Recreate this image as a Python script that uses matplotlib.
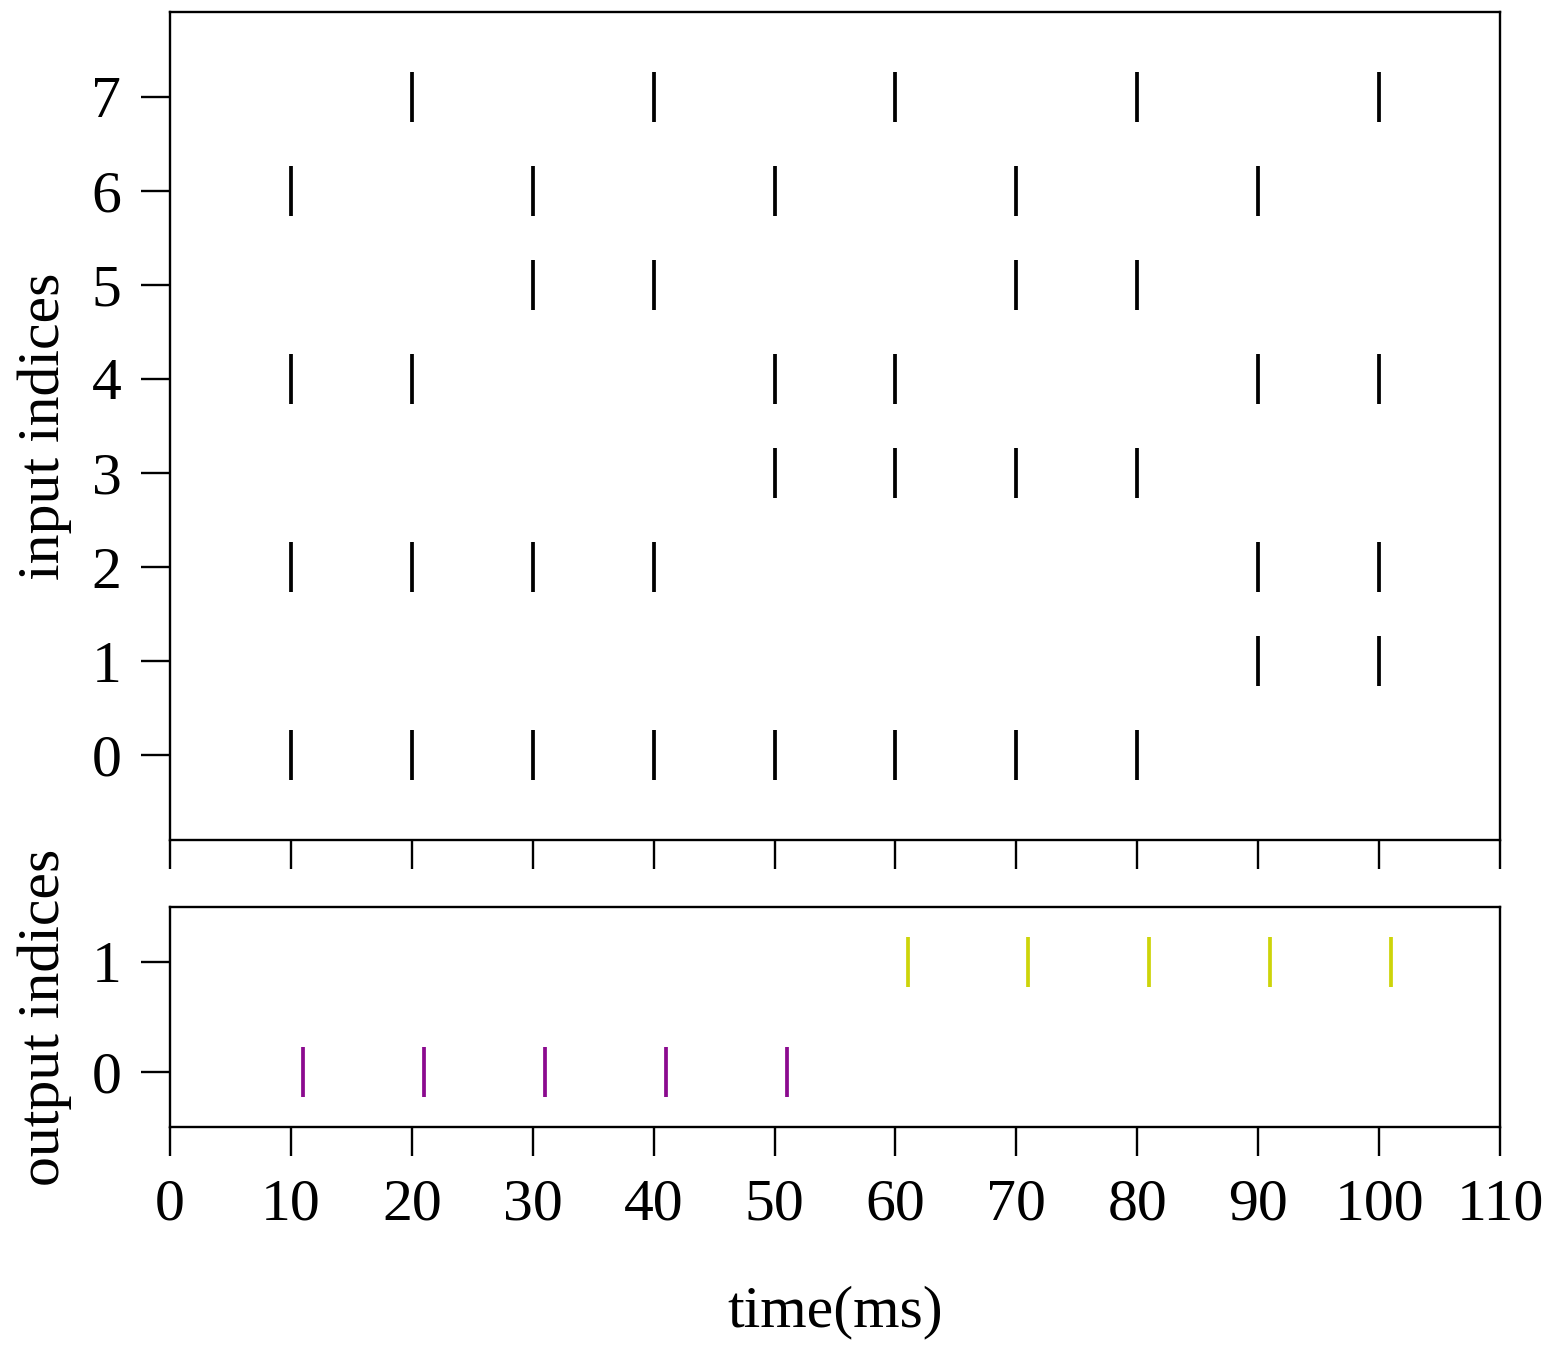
import matplotlib
matplotlib.use("Agg")
import matplotlib.pyplot as plt

plt.rcParams['font.family'] = ['Liberation Serif', 'DejaVu Serif']

input_spikes = {
    7: [20, 40, 60, 80, 100],
    6: [10, 30, 50, 70, 90],
    5: [30, 40, 70, 80],
    4: [10, 20, 50, 60, 90, 100],
    3: [50, 60, 70, 80],
    2: [10, 20, 30, 40, 90, 100],
    1: [90, 100],
    0: [10, 20, 30, 40, 50, 60, 70, 80],
}
output_spikes = {
    0: [11, 21, 31, 41, 51],
    1: [61, 71, 81, 91, 101],
}
output_colors = {0: '#8b0a8f', 1: '#cdd40a'}
xticks = [0, 10, 20, 30, 40, 50, 60, 70, 80, 90, 100, 110]

fig = plt.figure(figsize=(15.57, 13.52), dpi=100)
W, H = 1557, 1352
ax1 = fig.add_axes([170 / W, 1 - 840 / H, 1330 / W, 828 / H])
ax2 = fig.add_axes([170 / W, 1 - 1127 / H, 1330 / W, 220 / H])

ms = 36
mew = 2.7
for idx, times in input_spikes.items():
    ax1.plot(times, [idx] * len(times), linestyle='none', marker='|',
             markersize=ms, markeredgewidth=mew, color='black')
for idx, times in output_spikes.items():
    ax2.plot(times, [idx] * len(times), linestyle='none', marker='|',
             markersize=ms, markeredgewidth=mew, color=output_colors[idx])

fs = 43
for ax in (ax1, ax2):
    ax.set_xlim(0, 110)
    ax.set_xticks(xticks)
    ax.tick_params(direction='out', length=21, width=1.7, labelsize=fs)
    ax.tick_params(axis='x', pad=16)
    ax.tick_params(axis='y', pad=14)
    for s in ax.spines.values():
        s.set_linewidth(1.7)

ax1.set_ylim(-0.9, 7.9)
ax1.set_yticks(range(8))
ax1.tick_params(axis='x', labelbottom=False)
ax1.set_ylabel('input indices', fontsize=fs, labelpad=14)

ax2.set_ylim(-0.5, 1.5)
ax2.set_yticks([0, 1])
ax2.set_ylabel('output indices', fontsize=fs, labelpad=14)
ax2.set_xlabel('time(ms)', fontsize=fs, labelpad=38)

fig.align_ylabels([ax1, ax2])
fig.savefig('out.png', dpi=100)
